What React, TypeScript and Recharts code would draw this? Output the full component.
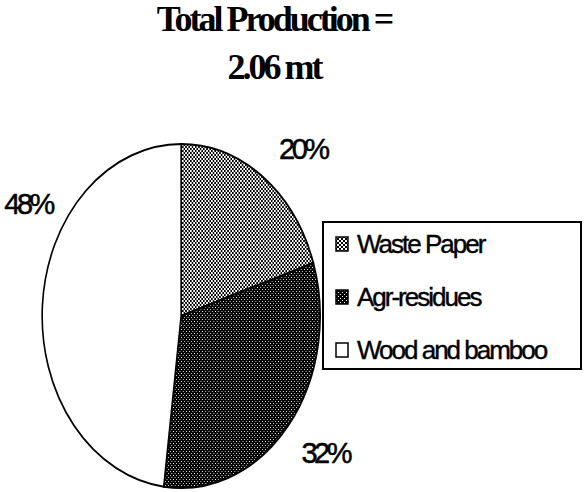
import React from 'react';
import { PieChart, Pie, Cell } from 'recharts';

const categories = ['Waste Paper', 'Agr-residues', 'Wood and bamboo'];
const shares = [20, 32, 48];
const titleLines = ['Total Production =', '2.06 mt'];

const data = categories.map((name, i) => ({ name, value: shares[i] }));

// the original pie is an ellipse, so the round pie is squeezed sideways
const SX = 139 / 172;
const CX = 260;
const fills = ['url(#wastePat)', 'url(#agrPat)', '#ffffff'];
const labelNudge = [-6, 2, -27];

const Patterns: React.FC = () => (
  <defs>
    <pattern id="wastePat" width="4" height="4" patternUnits="userSpaceOnUse">
      <rect width="4" height="4" fill="#fff" />
      <rect x="0" y="0" width="2" height="2" fill="#000" />
      <rect x="2" y="2" width="2" height="2" fill="#000" />
    </pattern>
    <pattern id="agrPat" width="4" height="4" patternUnits="userSpaceOnUse">
      <rect width="4" height="4" fill="#000" />
      <rect x="1" y="1" width="1" height="1" fill="#fff" />
      <rect x="3" y="3" width="1" height="1" fill="#fff" />
    </pattern>
  </defs>
);

const renderLabel = (props: any) => {
  const { cx, cy, midAngle, index, value } = props;
  const a = ((midAngle + labelNudge[index]) * Math.PI) / 180;
  const r = index === 2 ? 220 : 225;
  const x = cx + r * Math.cos(a);
  const y = cy - r * Math.sin(a);
  return (
    <text
      x={0}
      y={0}
      transform={`translate(${x},${y}) scale(${1 / SX},1)`}
      textAnchor="middle"
      dominantBaseline="central"
      fontFamily="Liberation Sans, Arial, sans-serif"
      fontSize={29}
      letterSpacing={-3.5}
      fill="#000"
      stroke="#000"
      strokeWidth={0.5}
    >
      {`${value}%`}
    </text>
  );
};

const App: React.FC = () => {
  return (
    <div style={{ position: 'absolute', left: 0, top: 0, width: 584, height: 492, background: '#fff', overflow: 'hidden' }}>
      <div
        style={{
          position: 'absolute',
          left: 0,
          top: -5,
          width: 548,
          textAlign: 'center',
          fontFamily: 'Liberation Serif, Times New Roman, serif',
          fontWeight: 'bold',
          fontSize: 36,
          letterSpacing: -3,
          lineHeight: '48px',
          color: '#000',
        }}
      >
        {titleLines.map((t) => (
          <div key={t}>{t}</div>
        ))}
      </div>

      <div style={{ position: 'absolute', left: 177 - SX * CX, top: 0, transform: `scaleX(${SX})`, transformOrigin: '0 0' }}>
        <PieChart width={620} height={492}>
          <Patterns />
          <Pie
            data={data}
            dataKey="value"
            nameKey="name"
            cx={CX}
            cy={311}
            outerRadius={172}
            startAngle={90}
            endAngle={-270}
            stroke="#000"
            strokeWidth={2}
            label={renderLabel}
            labelLine={false}
            isAnimationActive={false}
          >
            {data.map((d, i) => (
              <Cell key={d.name} fill={fills[i]} />
            ))}
          </Pie>
        </PieChart>
      </div>

      <div
        style={{
          position: 'absolute',
          left: 322,
          top: 221,
          width: 256,
          height: 145,
          border: '2px solid #000',
          background: '#fff',
          fontFamily: 'Liberation Sans, Arial, sans-serif',
          fontSize: 26,
          letterSpacing: -2,
          WebkitTextStroke: '0.4px #000',
          color: '#000',
        }}
      >
        {data.map((d, i) => (
          <div key={d.name} style={{ position: 'absolute', left: 11, top: 5 + i * 53, height: 32, display: 'flex', alignItems: 'center', whiteSpace: 'nowrap' }}>
            <svg width={14} height={16} style={{ marginRight: 8 }}>
              <rect x={1} y={1} width={12} height={14} fill={fills[i]} stroke="#000" strokeWidth={1.5} />
            </svg>
            <span>{d.name}</span>
          </div>
        ))}
      </div>
    </div>
  );
};

export default App;
